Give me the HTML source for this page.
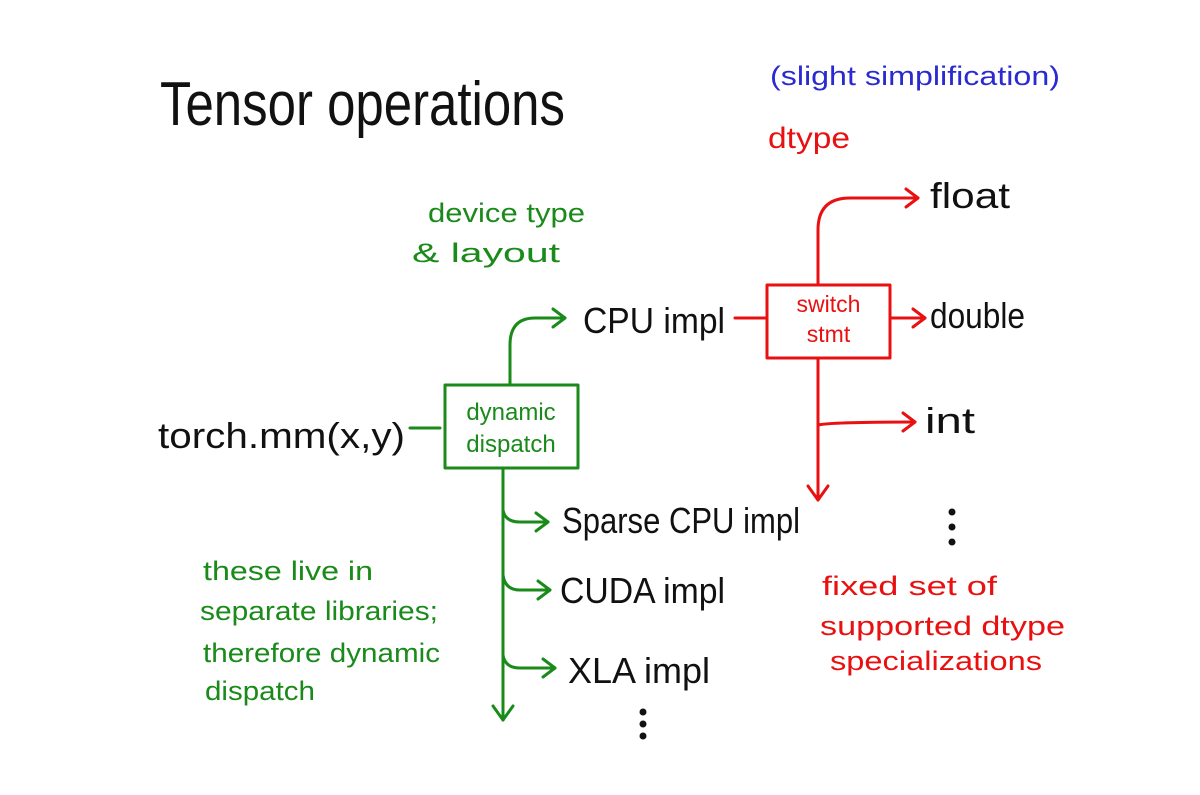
<!DOCTYPE html>
<html><head><meta charset="utf-8"><style>
html,body{margin:0;padding:0;background:#fff;}
svg{display:block;}
text{font-family:"Liberation Sans",sans-serif;}
</style></head><body>
<svg width="1200" height="795" viewBox="0 0 1200 795" xmlns="http://www.w3.org/2000/svg">
<rect width="1200" height="795" fill="#fff"/>
<text x="160" y="125" font-size="62" fill="#111" textLength="405" lengthAdjust="spacingAndGlyphs">Tensor operations</text>
<text x="770" y="85" font-size="27" fill="#2a2ad0" textLength="290" lengthAdjust="spacingAndGlyphs">(slight simplification)</text>
<text x="768" y="148" font-size="30" fill="#e81010" textLength="82" lengthAdjust="spacingAndGlyphs">dtype</text>
<text x="428" y="222" font-size="27" fill="#1a8a1a" textLength="157" lengthAdjust="spacingAndGlyphs">device type</text>
<text x="412" y="262" font-size="27" fill="#1a8a1a" textLength="148" lengthAdjust="spacingAndGlyphs">&amp; layout</text>

<g fill="#111" font-size="36">
<text x="930" y="208" textLength="80" lengthAdjust="spacingAndGlyphs">float</text>
<text x="583" y="333" textLength="142" lengthAdjust="spacingAndGlyphs">CPU impl</text>
<text x="930" y="328" textLength="95" lengthAdjust="spacingAndGlyphs">double</text>
<text x="925" y="433" textLength="50" lengthAdjust="spacingAndGlyphs">int</text>
<text x="158" y="448" textLength="247" lengthAdjust="spacingAndGlyphs">torch.mm(x,y)</text>
<text x="562" y="533" textLength="238" lengthAdjust="spacingAndGlyphs">Sparse CPU impl</text>
<text x="560" y="603" textLength="165" lengthAdjust="spacingAndGlyphs">CUDA impl</text>
<text x="568" y="683" textLength="142" lengthAdjust="spacingAndGlyphs">XLA impl</text>
</g>
<g fill="#111">
<circle cx="952" cy="512" r="3.5"/><circle cx="952" cy="527" r="3.5"/><circle cx="952" cy="542" r="3.5"/>
<circle cx="643" cy="712" r="3.5"/><circle cx="643" cy="724" r="3.5"/><circle cx="643" cy="736" r="3.5"/>
</g>

<!-- red -->
<g stroke="#e81010" stroke-width="3" fill="none" stroke-linecap="round" stroke-linejoin="round">
<rect x="767" y="285" width="123" height="73"/>
<path d="M818 285 V230 Q818 198 850 198 H918"/>
<path d="M906 189 L918 198 L906 207"/>
<path d="M735 318 H767"/>
<path d="M890 318 H925"/><path d="M913 309 L925 318 L913 327"/>
<path d="M818 358 V500"/><path d="M808 486 L818 500 L828 486"/>
<path d="M818 425 Q830 422 915 422"/><path d="M903 413 L915 422 L903 431"/>
</g>
<text x="828.5" y="312" font-size="23" fill="#e81010" text-anchor="middle">switch</text>
<text x="828.5" y="342" font-size="23" fill="#e81010" text-anchor="middle">stmt</text>
<g fill="#e81010" font-size="27">
<text x="822" y="595" textLength="175" lengthAdjust="spacingAndGlyphs">fixed set of</text>
<text x="820" y="635" textLength="245" lengthAdjust="spacingAndGlyphs">supported dtype</text>
<text x="830" y="670" textLength="212" lengthAdjust="spacingAndGlyphs">specializations</text>
</g>

<!-- green -->
<g stroke="#1a8a1a" stroke-width="3" fill="none" stroke-linecap="round" stroke-linejoin="round">
<rect x="445" y="385" width="133" height="83"/>
<path d="M410 428 H440"/>
<path d="M510 385 V345 Q510 318 535 318 H565"/><path d="M553 309 L565 318 L553 327"/>
<path d="M503 468 V720"/><path d="M493 706 L503 720 L513 706"/>
<path d="M503 510 Q505 522 520 522 H548"/><path d="M536 513 L548 522 L536 531"/>
<path d="M503 575 Q505 590 520 590 H550"/><path d="M538 581 L550 590 L538 599"/>
<path d="M503 655 Q505 668 520 668 H555"/><path d="M543 659 L555 668 L543 677"/>
</g>
<text x="511" y="420" font-size="24" fill="#1a8a1a" text-anchor="middle">dynamic</text>
<text x="511" y="452" font-size="24" fill="#1a8a1a" text-anchor="middle">dispatch</text>
<g fill="#1a8a1a" font-size="27">
<text x="203" y="580" textLength="170" lengthAdjust="spacingAndGlyphs">these live in</text>
<text x="200" y="620" textLength="238" lengthAdjust="spacingAndGlyphs">separate libraries;</text>
<text x="203" y="662" textLength="237" lengthAdjust="spacingAndGlyphs">therefore dynamic</text>
<text x="205" y="700" textLength="110" lengthAdjust="spacingAndGlyphs">dispatch</text>
</g>
</svg>
</body></html>
